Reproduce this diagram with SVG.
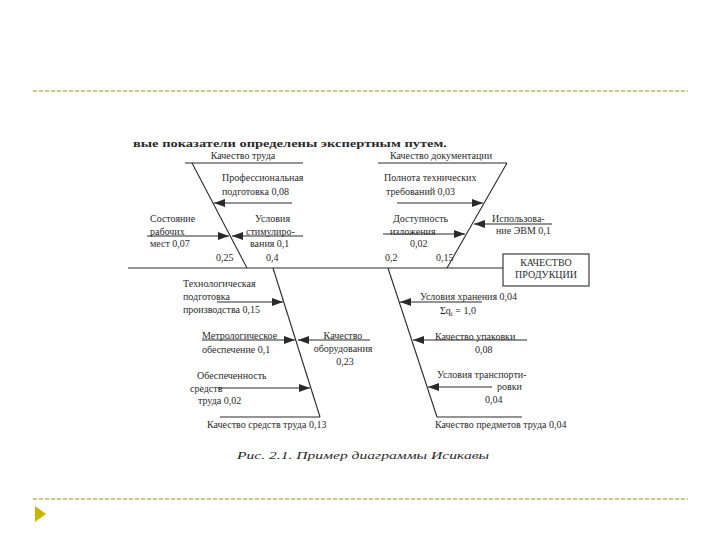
<svg xmlns="http://www.w3.org/2000/svg" width="720" height="540" viewBox="0 0 720 540">
<style>
.t{font-family:"Liberation Serif","Times New Roman",serif;font-size:10px;fill:#2a2a2a}
.c{text-anchor:middle}
.ln{stroke:#2a2a2a;stroke-width:1.1;fill:none}
.ar{stroke:#2a2a2a;stroke-width:1.1;fill:none;marker-end:url(#ah)}
.dash{stroke:#9a9600;stroke-width:1;stroke-dasharray:4 2;fill:none}
</style>
<defs>
<marker id="ah" viewBox="0 0 11 8" refX="11" refY="4" markerWidth="11" markerHeight="8" markerUnits="userSpaceOnUse" orient="auto">
<path d="M0,0 L11,4 L0,8 Z" fill="#2a2a2a"/>
</marker>
<clipPath id="topclip"><rect x="0" y="141" width="720" height="20"/></clipPath>
</defs>
<rect width="720" height="540" fill="#ffffff"/>
<g id="frame">
<line class="dash" x1="33" y1="91" x2="688" y2="91"/>
<line class="dash" x1="33" y1="499" x2="688" y2="499"/>
<path d="M35,506 L46,514 L35,522 Z" fill="#c8b800"/>
</g>
<g id="header-text">
<text class="t" x="133" y="147" font-size="14" font-weight="bold" fill="#555" clip-path="url(#topclip)" textLength="314" lengthAdjust="spacingAndGlyphs">вые показатели определены экспертным путем.</text>
</g>
<g id="connectors">
<line class="ln" x1="128" y1="268" x2="503" y2="268"/>
<line class="ln" x1="185" y1="163" x2="303" y2="163"/>
<line class="ln" x1="192" y1="163" x2="247" y2="268"/>
<line class="ln" x1="378" y1="163" x2="507" y2="163"/>
<line class="ln" x1="507" y1="163" x2="447" y2="268"/>
<line class="ln" x1="273" y1="268" x2="320" y2="417"/>
<line class="ln" x1="220" y1="417" x2="320" y2="417"/>
<line class="ln" x1="388" y1="268" x2="437" y2="417"/>
<line class="ln" x1="437" y1="417" x2="522" y2="417"/>
<line class="ar" x1="292" y1="203" x2="214" y2="203"/>
<line class="ar" x1="147" y1="236" x2="229" y2="236"/>
<line class="ar" x1="303" y1="236" x2="232" y2="236"/>
<line class="ar" x1="397" y1="203" x2="483" y2="203"/>
<line class="ar" x1="383" y1="234" x2="465" y2="234"/>
<line class="ar" x1="552" y1="224" x2="474" y2="224"/>
<line class="ar" x1="217" y1="302" x2="283" y2="302"/>
<line class="ar" x1="202" y1="340" x2="295" y2="340"/>
<line class="ar" x1="370" y1="340" x2="298" y2="340"/>
<line class="ar" x1="218" y1="388" x2="310" y2="388"/>
<line class="ar" x1="482" y1="302" x2="400" y2="302"/>
<line class="ar" x1="527" y1="340" x2="413" y2="340"/>
<line class="ar" x1="492" y1="387" x2="428" y2="387"/>
</g>
<g id="result">
<rect x="503" y="254" width="86" height="32" fill="#fff" stroke="#2a2a2a" stroke-width="1.1"/>
<text class="t c" x="546" y="266" font-size="8.5">КАЧЕСТВО</text>
<text class="t c" x="546" y="278" font-size="8.5">ПРОДУКЦИИ</text>
</g>
<g id="cat-labor">
<text class="t c" x="243" y="159">Качество труда</text>
<text class="t" x="222" y="181">Профессиональная</text>
<text class="t" x="222" y="195">подготовка  0,08</text>
<text class="t" x="150" y="222">Состояние</text>
<text class="t" x="150" y="235">рабочих</text>
<text class="t" x="150" y="247">мест  0,07</text>
<text class="t" x="255" y="222">Условия</text>
<text class="t" x="246" y="235">стимулиро-</text>
<text class="t" x="250" y="247">вания  0,1</text>
<text class="t" x="216" y="261">0,25</text>
<text class="t" x="266" y="261">0,4</text>
</g>
<g id="cat-docs">
<text class="t c" x="441" y="159">Качество документации</text>
<text class="t" x="384" y="181">Полнота технических</text>
<text class="t" x="386" y="195">требований  0,03</text>
<text class="t" x="393" y="222">Доступность</text>
<text class="t" x="390" y="235">изложения</text>
<text class="t" x="410" y="247">0,02</text>
<text class="t" x="492" y="222">Использова-</text>
<text class="t" x="496" y="234">ние ЭВМ  0,1</text>
<text class="t" x="385" y="261">0,2</text>
<text class="t" x="436" y="261">0,15</text>
</g>
<g id="cat-means">
<text class="t" x="183" y="287">Технологическая</text>
<text class="t" x="183" y="300">подготовка</text>
<text class="t" x="183" y="313">производства 0,15</text>
<text class="t" x="202" y="339">Метрологическое</text>
<text class="t" x="202" y="353">обеспечение 0,1</text>
<text class="t c" x="343" y="339">Качество</text>
<text class="t c" x="343" y="352">оборудования</text>
<text class="t c" x="345" y="365">0,23</text>
<text class="t" x="197" y="379">Обеспеченность</text>
<text class="t" x="190" y="392">средств</text>
<text class="t" x="198" y="404">труда  0,02</text>
<text class="t" x="207" y="428">Качество средств труда  0,13</text>
</g>
<g id="cat-objects">
<text class="t" x="420" y="300">Условия хранения  0,04</text>
<text class="t" x="440" y="314">Σq<tspan font-size="7" dy="2">i</tspan><tspan dy="-2"> = 1,0</tspan></text>
<text class="t" x="435" y="340">Качество упаковки</text>
<text class="t" x="475" y="353">0,08</text>
<text class="t" x="437" y="378">Условия транспорти-</text>
<text class="t" x="497" y="390">ровки</text>
<text class="t" x="485" y="403">0,04</text>
<text class="t" x="435" y="428">Качество предметов труда  0,04</text>
</g>
<g id="caption">
<text class="t" x="237" y="459" font-size="15" font-style="italic" fill="#444" textLength="252" lengthAdjust="spacingAndGlyphs">Рис. 2.1. Пример диаграммы Исикавы</text>
</g>
</svg>
